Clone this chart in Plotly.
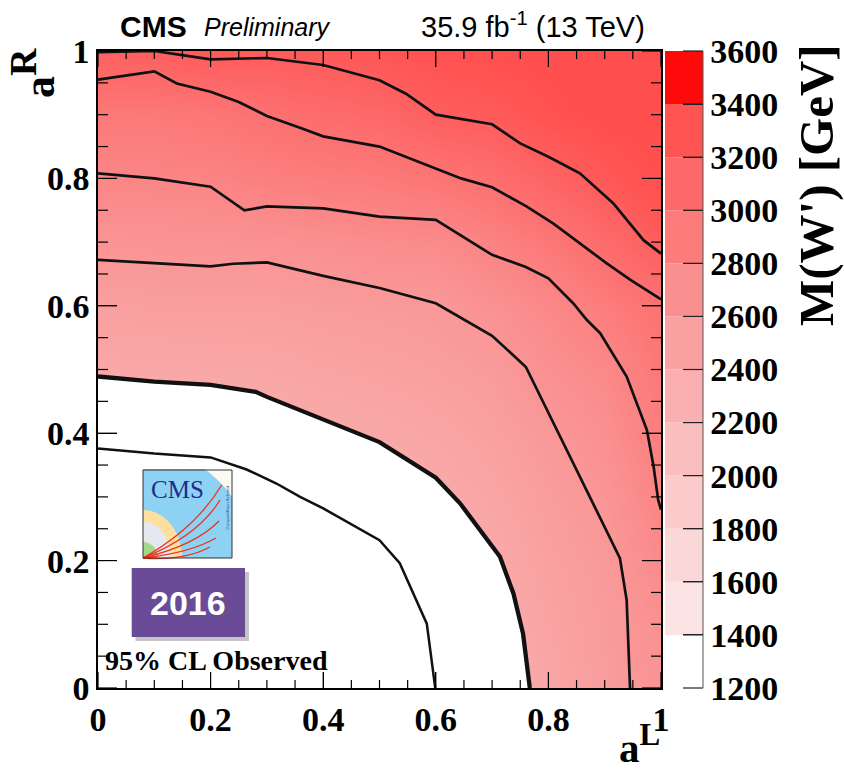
import math
import plotly.graph_objects as go

# ---------------- data ----------------
grid_aL = [0.0, 0.1, 0.2, 0.3, 0.4, 0.5, 0.6, 0.7, 0.8, 0.9, 1.0]
grid_aR = [0.0, 0.1, 0.2, 0.3, 0.4, 0.5, 0.6, 0.7, 0.8, 0.9, 1.0]
# M(W') [GeV] estimated on the (aL, aR) grid; rows = aR, columns = aL
mass_grid = [
    [1800, 1820, 1850, 1900, 1950, 2000, 2200, 2320, 2440, 2550, 2650],
    [1900, 1920, 1950, 2000, 2050, 2090, 2260, 2360, 2475, 2565, 2690],
    [2000, 2020, 2050, 2100, 2140, 2170, 2320, 2395, 2510, 2585, 2750],
    [2100, 2120, 2140, 2190, 2225, 2290, 2380, 2450, 2550, 2630, 2810],
    [2240, 2250, 2270, 2320, 2370, 2410, 2450, 2510, 2600, 2695, 2870],
    [2410, 2420, 2430, 2440, 2470, 2495, 2525, 2570, 2685, 2760, 2935],
    [2520, 2530, 2535, 2535, 2560, 2575, 2595, 2675, 2765, 2885, 2995],
    [2640, 2650, 2660, 2675, 2700, 2730, 2745, 2830, 2935, 3065, 3220],
    [2790, 2800, 2815, 2860, 2885, 2910, 2960, 3030, 3140, 3260, 3380],
    [2925, 2920, 2950, 3005, 3060, 3095, 3200, 3230, 3330, 3400, 3400],
    [3180, 3200, 3250, 3230, 3250, 3290, 3340, 3380, 3400, 3400, 3400],
]

# contour lines (aL, aR)
c3200_aL = [0.0, 0.1, 0.2, 0.3, 0.4, 0.5, 0.547, 0.6, 0.7, 0.75, 0.8, 0.856, 0.915, 0.969, 1.0]
c3200_aR = [0.998, 1.0, 0.987, 0.989, 0.978, 0.954, 0.933, 0.90, 0.885, 0.855, 0.834, 0.808, 0.761, 0.703, 0.682]

c3000_aL = [0.0, 0.1, 0.14, 0.2, 0.25, 0.3, 0.36, 0.4, 0.5, 0.6, 0.645, 0.7, 0.761, 0.809, 0.856, 0.903, 0.945, 1.0]
c3000_aR = [0.955, 0.968, 0.949, 0.936, 0.92, 0.898, 0.879, 0.866, 0.85, 0.816, 0.80, 0.786, 0.756, 0.729, 0.698, 0.667, 0.641, 0.61]

c2800_aL = [0.0, 0.1, 0.2, 0.26, 0.3, 0.4, 0.5, 0.6, 0.7, 0.76, 0.8, 0.844, 0.868, 0.892, 0.939, 0.975, 0.987, 0.995, 1.0]
c2800_aR = [0.808, 0.80, 0.787, 0.75, 0.756, 0.753, 0.74, 0.735, 0.68, 0.661, 0.643, 0.604, 0.578, 0.557, 0.489, 0.405, 0.347, 0.295, 0.28]

c2600_aL = [0.0, 0.1, 0.2, 0.24, 0.3, 0.4, 0.5, 0.6, 0.7, 0.76, 0.815, 0.868, 0.927, 0.939, 0.945]
c2600_aR = [0.672, 0.667, 0.662, 0.666, 0.668, 0.647, 0.628, 0.604, 0.553, 0.504, 0.405, 0.311, 0.204, 0.138, 0.0]

c2400_aL = [0.0, 0.1, 0.2, 0.28, 0.3, 0.4, 0.5, 0.6, 0.643, 0.714, 0.738, 0.755, 0.767]
c2400_aR = [0.489, 0.481, 0.476, 0.465, 0.457, 0.421, 0.386, 0.33, 0.29, 0.206, 0.148, 0.085, 0.0]

c2200_aL = [0.0, 0.1, 0.2, 0.264, 0.317, 0.359, 0.4, 0.448, 0.5, 0.536, 0.584, 0.599]
c2200_aR = [0.376, 0.368, 0.362, 0.343, 0.321, 0.30, 0.282, 0.258, 0.232, 0.196, 0.101, 0.0]

axis_ticks = [0, 0.2, 0.4, 0.6, 0.8, 1.0]
axis_ticktext = ["0", "0.2", "0.4", "0.6", "0.8", "1"]
minor_ticks = [round(0.05 * k, 2) for k in range(21)]
cbar_ticks = [1200, 1400, 1600, 1800, 2000, 2200, 2400, 2600, 2800, 3000, 3200, 3400, 3600]
band_colors = ["#ffffff", "#fce4e4", "#fbd8d8", "#fbcbcb", "#fabebe", "#fab0b0",
               "#f9a1a1", "#fa8f8f", "#fc7b7b", "#fd6868", "#ff5454", "#ff0a0a"]

# ---------------- styling helpers ----------------
W, H = 844, 774
L, R, T, B = 98, 183, 51, 86
PW, PH = W - L - R, H - T - B


def px2d(px, py):
    return (px - L) / PW, (H - B - py) / PH


zmin, zmax = 1200, 3600
nb = len(band_colors)
# smooth scale used for the plot area (saturates at the 3200-3400 tone)
fill_scale = [[0.0, "#ffffff"]]
for i, c in enumerate(band_colors[1:-1], start=1):
    fill_scale.append([(i + 0.5) / nb, c])
fill_scale.append([(nb - 0.5) / nb, "#ff4848"])
fill_scale.append([1.0, "#ff4848"])

label_font = dict(family="Liberation Serif", size=34, color="black")

fig = go.Figure()

fig.add_trace(go.Heatmap(x=grid_aL, y=grid_aR, z=mass_grid, zsmooth="best",
                         colorscale=fill_scale, zmin=zmin, zmax=zmax,
                         showscale=False, hoverinfo="skip"))

# colour-bar axis (labels); the bands themselves are painted underneath from band_colors
cb_left, cb_right = (665 - L) / PW, (703 - L) / PW
fig.add_trace(go.Heatmap(
    z=[[zmin, zmax]], x=[5, 6], y=[5],
    colorscale=[[0, "rgba(255,255,255,0)"], [1, "rgba(255,255,255,0)"]], zmin=zmin, zmax=zmax,
    hoverinfo="skip", showscale=True,
    colorbar=dict(
        x=cb_left, xanchor="left", xpad=0, y=0, yanchor="bottom", ypad=0,
        len=1, lenmode="fraction", thickness=38, thicknessmode="pixels",
        outlinewidth=0, ticks="inside", ticklen=20, tickwidth=1, tickcolor="#222222",
        tickvals=cbar_ticks, ticktext=[f"<b>{v}</b>" for v in cbar_ticks],
        tickfont=label_font,
    )))

# white region below the observed contour
fig.add_trace(go.Scatter(x=c2400_aL + [0.0], y=c2400_aR + [0.0], fill="toself",
                         fillcolor="white", mode="lines", line=dict(width=0),
                         hoverinfo="skip", showlegend=False))

for xs, ys, w in [(c3200_aL, c3200_aR, 2.7), (c3000_aL, c3000_aR, 2.7),
                  (c2800_aL, c2800_aR, 2.7), (c2600_aL, c2600_aR, 2.7),
                  (c2400_aL, c2400_aR, 4.3), (c2200_aL, c2200_aR, 2.5)]:
    fig.add_trace(go.Scatter(x=xs, y=ys, mode="lines",
                             line=dict(color="#111111", width=w),
                             hoverinfo="skip", showlegend=False))

axis_style = dict(range=[0, 1], tickmode="array", tickvals=axis_ticks,
                  ticktext=[f"<b>{t}</b>" for t in axis_ticktext],
                  ticks="inside", tickwidth=1.2, tickcolor="black",
                  showline=True, linecolor="black", linewidth=1.5, mirror="ticks",
                  layer="above traces", showgrid=False, zeroline=False, tickfont=label_font)
fig.update_layout(xaxis=dict(**axis_style, ticklen=16), yaxis=dict(**axis_style, ticklen=19))

shapes = []
tick_line = dict(color="black", width=1.2)

# frame ticks (major + minor, on all four sides)
for v in minor_ticks:
    is_major = any(abs(v - m) < 1e-9 for m in axis_ticks)
    lx = (16 if is_major else 8) / PH
    ly = (19 if is_major else 10) / PW
    shapes += [
        dict(type="line", xref="x", yref="y", x0=v, x1=v, y0=0, y1=lx, line=tick_line, layer="above"),
        dict(type="line", xref="x", yref="y", x0=v, x1=v, y0=1, y1=1 - lx, line=tick_line, layer="above"),
        dict(type="line", xref="x", yref="y", x0=0, x1=ly, y0=v, y1=v, line=tick_line, layer="above"),
        dict(type="line", xref="x", yref="y", x0=1, x1=1 - ly, y0=v, y1=v, line=tick_line, layer="above"),
    ]

# colour-bar bands, ticks and right edge
for i, c in enumerate(band_colors):
    shapes.append(dict(type="rect", xref="paper", yref="paper", x0=cb_left, x1=cb_right,
                       y0=i / nb, y1=(i + 1) / nb, fillcolor=c, line=dict(width=0), layer="above"))
cb_tick_left = (683 - L) / PW
for v in cbar_ticks:
    yv = (v - zmin) / (zmax - zmin)
    shapes.append(dict(type="line", xref="paper", yref="paper", x0=cb_tick_left, x1=cb_right,
                       y0=yv, y1=yv, line=dict(color="#222222", width=1.2), layer="above"))
shapes.append(dict(type="line", xref="paper", yref="paper", x0=cb_right, x1=cb_right,
                   y0=0, y1=1, line=dict(color="#555555", width=1), layer="above"))


def rect(px0, py0, px1, py1, **kw):
    x0, y0 = px2d(px0, py0)
    x1, y1 = px2d(px1, py1)
    shapes.append(dict(type="rect", xref="x", yref="y", x0=x0, y0=y0, x1=x1, y1=y1, **kw))


def path_px(points, **kw):
    s = ""
    for k, (px, py) in enumerate(points):
        x, y = px2d(px, py)
        s += ("M" if k == 0 else "L") + f"{x:.5f},{y:.5f}"
    s += "Z"
    shapes.append(dict(type="path", xref="x", yref="y", path=s, **kw))


# 2016 badge
rect(135.5, 572, 249, 641, fillcolor="rgba(90,90,90,0.35)", line=dict(width=0))
rect(131.7, 568, 245, 637, fillcolor="#6a4b97", line=dict(width=0))

# CMS logo
lx0, ly0, lx1, ly1 = 143, 470, 232, 558
side = lx1 - lx0
rect(lx0, ly0, lx1, ly1, fillcolor="#fbf9f1", line=dict(width=0))
for rx, ry, col in [(108, 108, "#8dd2f2"), (39, 48, "#fddf9e"), (28, 36, "#e6e8ef"), (15, 16, "#a2db8a")]:
    pts = [(lx0, ly1)]
    for k in range(61):
        a = math.pi / 2 * k / 60
        dx = min(rx * math.cos(a), side)
        dy = min(ry * math.sin(a), side)
        pts.append((lx0 + dx, ly1 - dy))
    path_px(pts, fillcolor=col, line=dict(width=0))
for (ex, ey), (cx, cy) in [((221.7, 485), (196, 528)), ((220, 500), (198, 536)),
                           ((219, 521), (196, 545)), ((216, 538), (190, 553)),
                           ((210, 547), (184, 561))]:
    x0, y0 = px2d(lx0, ly1)
    xc, yc = px2d(cx, cy)
    xe, ye = px2d(ex, ey)
    shapes.append(dict(type="path", xref="x", yref="y",
                       path=f"M{x0:.5f},{y0:.5f}Q{xc:.5f},{yc:.5f} {xe:.5f},{ye:.5f}",
                       line=dict(color="#f0321e", width=1.3)))
rect(lx0, ly0, lx1, ly1, line=dict(color="#333333", width=1))

annotations = []


def ann(text, px, py, size, family, xanchor="center", yanchor="middle", color="black",
        weight="normal", style="normal", angle=0):
    x, y = px2d(px, py)
    annotations.append(dict(text=text, x=x, y=y, xref="paper", yref="paper", showarrow=False,
                            xanchor=xanchor, yanchor=yanchor, textangle=angle,
                            font=dict(size=size, family=family, color=color, weight=weight, style=style)))


ann("CMS", 118, 26, 30, "Liberation Sans", xanchor="left", weight="bold")
ann("Preliminary", 202, 27, 25, "Liberation Sans", xanchor="left", style="italic")
ann("35.9 fb<sup>-1</sup> (13 TeV)", 647, 25, 29, "Liberation Sans", xanchor="right")
ann("a<sup><span style='font-size:38px'>R</span></sup>", 33, 46, 44, "Liberation Serif",
    yanchor="top", weight="bold", angle=-90)
ann("a<sup><span style='font-size:31px'>L</span></sup>", 662, 773, 41, "Liberation Serif",
    xanchor="right", yanchor="bottom", weight="bold")
ann("M(W') [GeV]", 816, 42, 49, "Liberation Serif", yanchor="top", weight="bold", angle=-90)
ann("95% CL Observed", 103, 660, 28, "Liberation Serif", xanchor="left", weight="bold")
ann("2016", 188, 603, 34, "Liberation Sans", color="white", weight="bold")
ann("CMS", 177, 489, 25, "Liberation Serif", color="#1f2d8a")
ann("Compact Muon Solenoid", 227.5, 508, 4, "Liberation Sans", color="#2a3a9a", angle=-90)

fig.update_layout(width=W, height=H, margin=dict(l=L, r=R, t=T, b=B, pad=0),
                  paper_bgcolor="white", plot_bgcolor="white", showlegend=False,
                  shapes=shapes, annotations=annotations)

fig.write_html("out.html")
